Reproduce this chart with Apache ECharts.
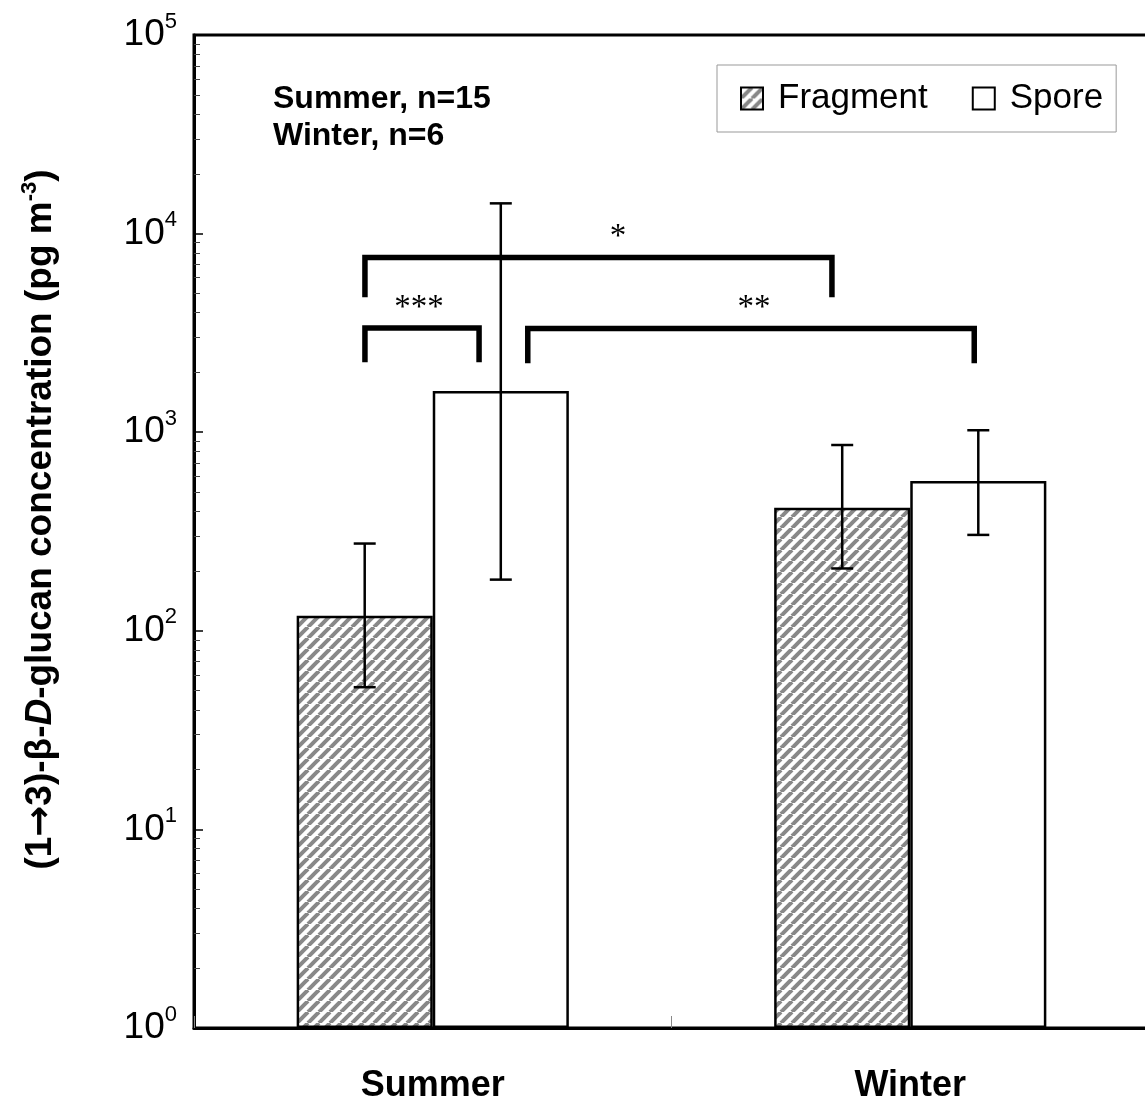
<!DOCTYPE html>
<html><head><meta charset="utf-8">
<script src="https://cdn.jsdelivr.net/npm/echarts@6/dist/echarts.min.js"></script>
<style>html,body{margin:0;padding:0;background:#fff;overflow:hidden}#c{width:1145px;height:1100px}</style>
</head><body><div id="c"></div>
<script>
// ---- data ----
const categories = ['Summer', 'Winter'];
const seriesNames = ['Fragment', 'Spore'];
const fragmentMean = [119, 417];
const sporeMean = [1610, 568];
const fragmentLow = [52, 206];
const fragmentHigh = [275, 862];
const sporeLow = [181, 304];
const sporeHigh = [14200, 1023];
const yTickExponents = [0, 1, 2, 3, 4, 5];
const minorTickValues = [2,3,4,5,6,7,8,9,20,30,40,50,60,70,80,90,200,300,400,500,600,700,800,900,
  2000,3000,4000,5000,6000,7000,8000,9000,20000,30000,40000,50000,60000,70000,80000,90000];
const annotationLines = ['Summer, n=15', 'Winter, n=6'];
// significance brackets (category index + fraction of band, values in pg m-3)
const bracketLabels = ['***', '*', '**'];
const bracketFrom = [[0, -0.142], [0, -0.142], [0, 0.199]];
const bracketTo = [[0, 0.097], [1, -0.164], [1, 0.134]];
const bracketTop = [3350, 7590, 3330];
const bracketLeg = [2250, 4775, 2225];
const bracketLabelAt = [[0, -0.029, 4200], [0, 0.388, 9570], [1, -0.327, 4200]];

const BAR_FRAC = 0.285;
const FONT = 'Liberation Sans, Arial, sans-serif';

function hatchCanvas() {
  const s = 11;
  const c = document.createElement('canvas');
  c.width = s; c.height = s;
  const g = c.getContext('2d');
  g.fillStyle = '#fff'; g.fillRect(0, 0, s, s);
  g.strokeStyle = '#888'; g.lineWidth = 4;
  for (let k = -1; k <= 1; k++) {
    g.beginPath(); g.moveTo(k * s, s); g.lineTo(k * s + s, 0); g.stroke();
  }
  return c;
}
const hatch = { image: hatchCanvas(), repeat: 'repeat' };

function errRender(sign) {
  return function (params, api) {
    const lo = api.coord([api.value(0), api.value(1)]);
    const hi = api.coord([api.value(0), api.value(2)]);
    const band = api.size([1, 0])[0];
    const x = lo[0] + sign * band * BAR_FRAC / 2;
    const cap = 11;
    const st = { stroke: '#000', lineWidth: 2.5 };
    return { type: 'group', children: [
      { type: 'line', shape: { x1: x, y1: lo[1], x2: x, y2: hi[1] }, style: st },
      { type: 'line', shape: { x1: x - cap, y1: lo[1], x2: x + cap, y2: lo[1] }, style: st },
      { type: 'line', shape: { x1: x - cap, y1: hi[1], x2: x + cap, y2: hi[1] }, style: st }
    ]};
  };
}

function bracketRender(params, api) {
  const i = params.dataIndex;
  const band = api.size([1, 0])[0];
  const px = (cat, off, v) => { const p = api.coord([cat, v]); return [p[0] + off * band, p[1]]; };
  const a = px(bracketFrom[i][0], bracketFrom[i][1], bracketLeg[i]);
  const b = px(bracketFrom[i][0], bracketFrom[i][1], bracketTop[i]);
  const c = px(bracketTo[i][0], bracketTo[i][1], bracketTop[i]);
  const d = px(bracketTo[i][0], bracketTo[i][1], bracketLeg[i]);
  const l = px(bracketLabelAt[i][0], bracketLabelAt[i][1], bracketLabelAt[i][2]);
  return { type: 'group', children: [
    { type: 'polyline', shape: { points: [a, b, c, d] },
      style: { stroke: '#000', lineWidth: 5.5, fill: null, lineJoin: 'miter' } },
    { type: 'text', x: l[0], y: l[1],
      style: { text: bracketLabels[i], fill: '#000', font: '33px "Liberation Serif", serif',
               align: 'center', verticalAlign: 'middle' } }
  ]};
}

const chart = echarts.init(document.getElementById('c'), null, { renderer: 'canvas' });
chart.setOption({
  animation: false,
  backgroundColor: '#fff',
  textStyle: { fontFamily: FONT },
  grid: { left: 194, top: 35, width: 955, height: 993, outerBoundsMode: 'none', containLabel: false,
          show: true, borderColor: '#000', borderWidth: 3, backgroundColor: 'transparent' },
  legend: {
    data: seriesNames, left: 717, top: 65, orient: 'horizontal',
    itemWidth: 22, itemHeight: 22, itemGap: 44,
    borderColor: '#999', borderWidth: 1, padding: [16, 13, 16, 23],
    icon: 'rect',
    textStyle: { fontSize: 35, color: '#000', fontFamily: FONT, padding: [0, 0, 0, 10] }
  },
  xAxis: {
    type: 'category', data: categories,
    axisLine: { lineStyle: { color: '#000', width: 3 } },
    axisTick: { show: true, inside: true, length: 12, lineStyle: { color: '#888', width: 1 } },
    axisLabel: { fontSize: 36, fontWeight: 'bold', color: '#000', margin: 40, fontFamily: FONT },
    splitLine: { show: false }
  },
  yAxis: [{
    type: 'log', logBase: 10, min: 1, max: 100000,
    axisLine: { show: true, lineStyle: { color: '#000', width: 3 } },
    axisTick: { show: true, inside: true, length: 9, lineStyle: { color: '#000', width: 1.5 } },
    splitLine: { show: false },
    axisLabel: {
      margin: 17,
      formatter: function (v) {
        const e = Math.round(Math.log10(v));
        return yTickExponents.indexOf(e) >= 0 ? '{b|10}{s|' + e + '}' : '';
      },
      rich: {
        b: { fontSize: 37, color: '#000', fontFamily: FONT },
        s: { fontSize: 22, color: '#000', fontFamily: FONT, verticalAlign: 'top', padding: [0, 0, 27, 0] }
      }
    },
    name: '{n|(1}{ar|\u2192}{n|3)-\u03b2-}{i|D}{n|-glucan concentration (pg m}{sup|-3}{n|)}',
    nameLocation: 'middle', nameRotate: 90, nameGap: 131,
    nameTextStyle: {
      padding: [0, 0, 0, 24],
      rich: {
        n: { fontSize: 37, fontWeight: 'bold', color: '#000', fontFamily: FONT },
        ar: { fontSize: 37, fontWeight: 'bold', color: '#000', fontFamily: 'DejaVu Sans' },
        i: { fontSize: 37, fontWeight: 'bold', fontStyle: 'italic', color: '#000', fontFamily: FONT },
        sup: { fontSize: 22, fontWeight: 'bold', color: '#000', fontFamily: FONT, verticalAlign: 'top', padding: [0, 0, 22, 0] }
      }
    }
  }, {
    type: 'log', logBase: 10, min: 1, max: 100000, position: 'left',
    axisLine: { show: false },
    axisLabel: { show: false },
    splitLine: { show: false },
    axisTick: { show: true, inside: true, length: 6, customValues: minorTickValues, lineStyle: { color: '#444', width: 1 } }
  }],
  graphic: [{
    type: 'text', left: 273, top: 81,
    style: { text: annotationLines.join('\n'), font: 'bold 32px ' + FONT, fill: '#000', lineHeight: 37 }
  }],
  series: [
    { name: seriesNames[0], type: 'bar', data: fragmentMean, barWidth: (BAR_FRAC * 100) + '%', barGap: '0%',
      itemStyle: { color: hatch, borderColor: '#000', borderWidth: 2.5 }, z: 2 },
    { name: seriesNames[1], type: 'bar', data: sporeMean, barWidth: (BAR_FRAC * 100) + '%', barGap: '0%',
      itemStyle: { color: '#fff', borderColor: '#000', borderWidth: 2.5 }, z: 2 },
    { type: 'custom', renderItem: errRender(-1), z: 5,
      data: categories.map((c, i) => [i, fragmentLow[i], fragmentHigh[i]]), encode: { x: 0, y: [1, 2] } },
    { type: 'custom', renderItem: errRender(1), z: 5,
      data: categories.map((c, i) => [i, sporeLow[i], sporeHigh[i]]), encode: { x: 0, y: [1, 2] } },
    { type: 'custom', renderItem: bracketRender, z: 6,
      data: bracketLabels.map((l, i) => [bracketFrom[i][0], bracketTop[i]]), encode: { x: 0, y: 1 } }
  ]
});
</script></body></html>
